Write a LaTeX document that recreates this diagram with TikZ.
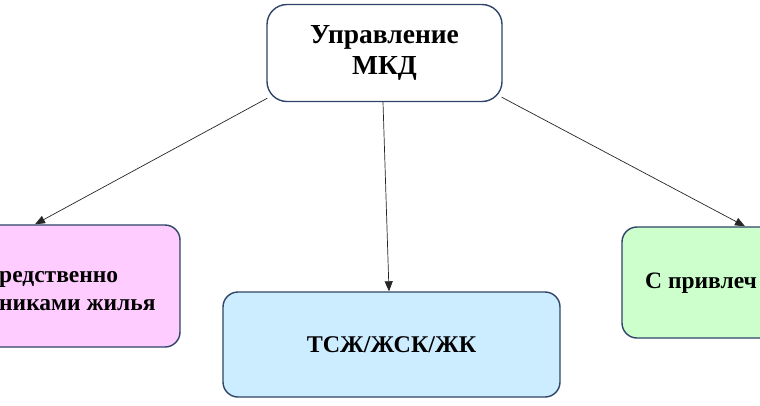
\documentclass[tikz,border=0pt]{standalone}
\usepackage{fontspec}
\setmainfont{Liberation Serif}
\usetikzlibrary{arrows.meta,positioning,calc}

\definecolor{boxline}{HTML}{2F4468}
\definecolor{pinkfill}{HTML}{FFCCFF}
\definecolor{bluefill}{HTML}{CCECFF}
\definecolor{greenfill}{HTML}{CCFFCC}

\tikzset{
    box/.style={draw=boxline, line width=1.4pt, rounded corners=15pt, inner sep=0pt},
    lbl/.style={font=\bfseries\fontsize{23.5}{28}\selectfont, inner sep=0pt, align=left},
    arr/.style={draw=black!85, line width=0.7pt, -{Triangle[length=10pt,width=8pt]}}
}

\begin{document}
\begin{tikzpicture}[x=1pt,y=-1pt]
    % рамка
    \useasboundingbox (0,0) rectangle (760,405);
    \clip (0,0) rectangle (760,405);
    \fill[white] (0,0) rectangle (760,405);

    % блоки
    \node[box, fill=white, rounded corners=20pt, minimum width=235pt, minimum height=97pt,
          align=center, font=\bfseries\fontsize{27.5}{31}\selectfont] (mkd) at (384.5,53) {Управление\\МКД};
    \node[box, fill=pinkfill, minimum width=290pt, minimum height=122pt] (own) at (35,286) {};
    \node[box, fill=bluefill, minimum width=337pt, minimum height=105pt,
          font=\bfseries\fontsize{24}{28}\selectfont] (tsj) at (391.5,344.5) {ТСЖ/ЖСК/ЖК};
    \node[box, fill=greenfill, minimum width=246pt, minimum height=111pt] (upr) at (745,282.5) {};

    % подписи
    \node[lbl, anchor=west] (ownlbl) at (-1,291) {редственно\\никами жилья};
    \node[lbl, anchor=west] (uprlbl) at (645,283) {С привлеч};

    % стрелки
    \draw[arr] ([xshift=1pt,yshift=4pt]mkd.south west) -- (own.north);
    \draw[arr] ([xshift=-1.5pt]mkd.south) -- ([xshift=-2.5pt]tsj.north);
    \draw[arr] ([xshift=-1pt,yshift=5pt]mkd.south east) -- (upr.north);
\end{tikzpicture}
\end{document}
